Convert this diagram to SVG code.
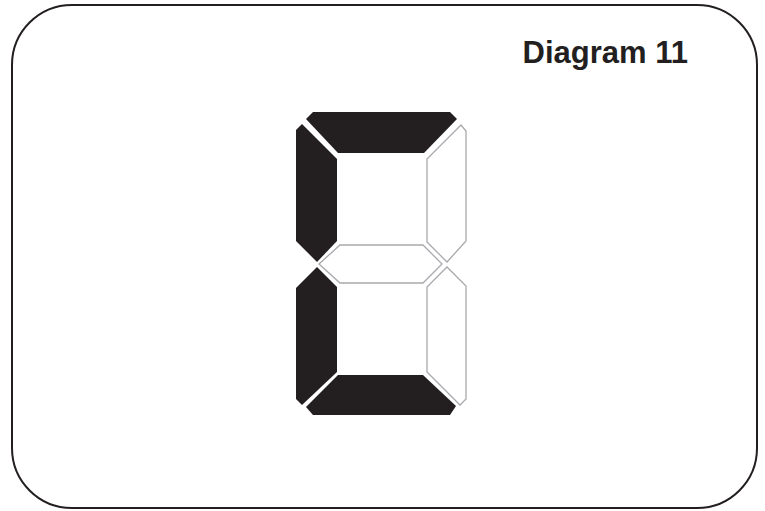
<svg xmlns="http://www.w3.org/2000/svg" width="765" height="511" viewBox="0 0 765 511">
<style>
.on{fill:#231f20;stroke:none}
.off{fill:#ffffff;stroke:#a7a9ac;stroke-width:1.3;stroke-linejoin:miter}
.title{font-family:"Liberation Sans",Arial,sans-serif;font-weight:bold;font-size:31px;fill:#231f20}
</style>
<rect x="12" y="5" width="745" height="503" rx="60" ry="60" fill="#ffffff" stroke="#231f20" stroke-width="2"/>
<text class="title" x="688" y="63" text-anchor="end">Diagram 11</text>
<g id="seg-a"><polygon class="on" points="313,112 450,112 457,119 424,153 338,153 306,119"/></g>
<g id="seg-b"><polygon class="off" points="461,125 466,131 466,241 447,262 427,242 427,159"/></g>
<g id="seg-c"><polygon class="off" points="447,267 466,286 466,399 460,405 427,372 427,287"/></g>
<g id="seg-d"><polygon class="on" points="338,375 423,375 456,406 450,415 313,415 306,407"/></g>
<g id="seg-e"><polygon class="on" points="317,267 337,287 337,372 302,405 296,399 296,288"/></g>
<g id="seg-f"><polygon class="on" points="302,124 337,159 337,241 317,262 296,241 296,130"/></g>
<g id="seg-g"><polygon class="off" points="319,264 340,245 423,245 442,264 423,283 340,283"/></g>
<g id="connectors"></g>
</svg>
